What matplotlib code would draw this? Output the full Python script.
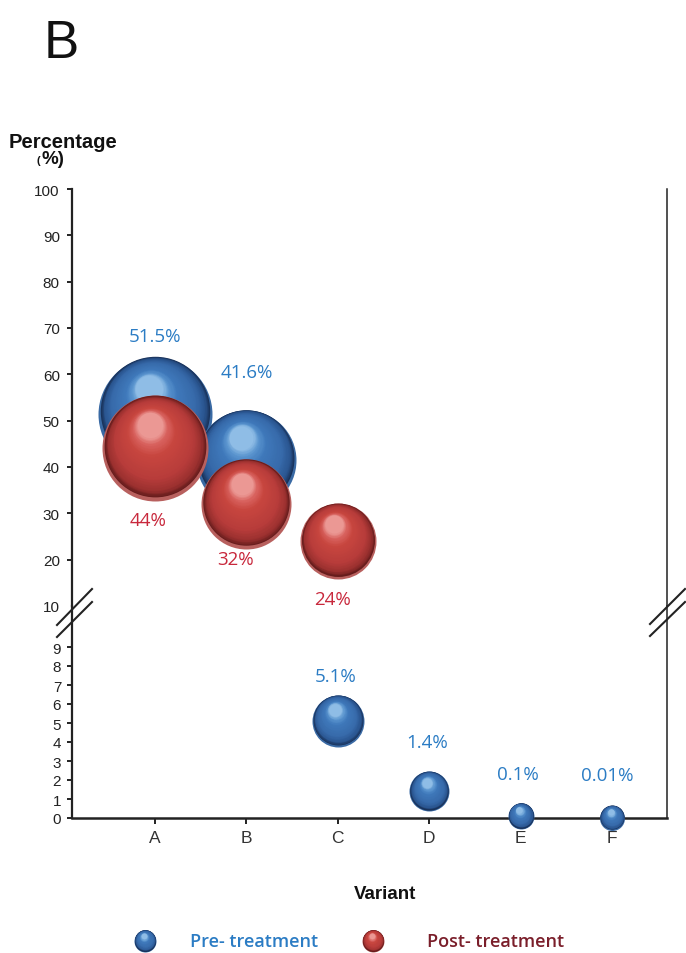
import matplotlib
matplotlib.use("Agg")
import matplotlib.pyplot as plt
from matplotlib.colors import LinearSegmentedColormap
from matplotlib.transforms import offset_copy
from matplotlib.lines import Line2D

plt.rcParams["font.family"] = ["Liberation Sans", "DejaVu Sans"]

# data
variants = ["A", "B", "C", "D", "E", "F"]
pre_values = [51.5, 41.6, 5.1, 1.4, 0.1, 0.01]
pre_labels = ["51.5%", "41.6%", "5.1%", "1.4%", "0.1%", "0.01%"]
post_idx = [0, 1, 2]
post_values = [44, 32, 24]
post_labels = ["44%", "32%", "24%"]

# sphere radius (pixels) and label offsets (pixels)
pre_radius = [57, 50, 26, 20, 13, 12.5]
post_radius = [53, 45, 38]
pre_offsets = [(0, 78), (0, 88), (-2, 45), (-2, 49), (-3, 42), (-5, 43)]
post_offsets = [(-7, -72), (-11, -55), (-5, -58)]

BLUE_TXT = "#2b7cc4"
RED_TXT = "#c8283c"
blue_cmap = LinearSegmentedColormap.from_list(
    "blue_ball", [(0, "#19325a"), (0.1, "#2a5590"), (0.3, "#376aaa"),
                  (0.7, "#3f79bb"), (0.88, "#5b95cf"), (1.0, "#8fbde6")])
red_cmap = LinearSegmentedColormap.from_list(
    "red_ball", [(0, "#661c1c"), (0.1, "#9a302f"), (0.3, "#b73c3a"),
                 (0.7, "#c8463f"), (0.88, "#d8625e"), (1.0, "#eb9894")])
rim_colors = {"blue_ball": "#3a6aa4", "red_ball": "#b8605e"}

W, H = 686, 954
fig = plt.figure(figsize=(W / 100, H / 100), dpi=100)


def fx(x):
    return x / W


def fy(y):
    return 1 - y / H


def disc(ax, x, y, rk, dx, dy, color, zorder):
    tr = offset_copy(ax.transData, fig=fig, x=dx, y=dy, units="dots")
    ax.scatter([x], [y], s=(2 * rk * 0.72) ** 2, color=color,
               transform=tr, zorder=zorder, clip_on=False, linewidths=0)


def draw_sphere(ax, x, y, r, cmap, zorder):
    # soft rim at the bottom, then stacked discs shifted towards the highlight
    disc(ax, x, y, r, 0, 0, rim_colors[cmap.name], zorder)
    n = 48
    for k in range(n):
        t = k / (n - 1)
        rk = r * (0.96 - 0.72 * t)
        disc(ax, x, y, rk, -0.1 * r * t, 0.04 * r + 0.4 * r * t,
             cmap(t), zorder)


left, right = 72, 667
ax_top = fig.add_axes([fx(left), fy(607), fx(right) - fx(left), fy(190) - fy(607)])
ax_bot = fig.add_axes([fx(left), fy(819), fx(right) - fx(left), fy(607) - fy(819)])

xlim = (-0.908, 5.60)
for ax in (ax_top, ax_bot):
    ax.set_xlim(*xlim)
    ax.set_facecolor("none")
    ax.spines["top"].set_visible(False)
    ax.spines["left"].set_linewidth(1.6)
    ax.spines["right"].set_linewidth(1.1)
    for s in ax.spines.values():
        s.set_color("#222222")
    ax.tick_params(axis="y", direction="out", length=3.8, width=1.4,
                   labelsize=11, colors="#222222")

ax_top.spines["bottom"].set_visible(False)
ax_top.set_xticks([])
ax_top.set_ylim(10, 100)
ax_top.set_yticks(range(10, 101, 10))
ax_top.tick_params(axis="y", pad=5)
ax_top.yaxis.get_major_ticks()[0].tick1line.set_visible(False)

ax_bot.set_ylim(0, (819 - 607) / 19)
ax_bot.set_yticks(range(0, 10))
ax_bot.tick_params(axis="y", pad=4)
ax_bot.spines["bottom"].set_linewidth(1.8)
ax_bot.set_xticks(range(len(variants)))
ax_bot.set_xticklabels(variants)
ax_bot.tick_params(axis="x", direction="out", length=4.5, width=1.4,
                   labelsize=12.5, colors="#222222", labelcolor="#333333", pad=4)

# pre-treatment spheres
for i, (v, lab, r, off) in enumerate(zip(pre_values, pre_labels, pre_radius, pre_offsets)):
    ax = ax_top if v >= 10 else ax_bot
    draw_sphere(ax, i, v, r, blue_cmap, 3)
    ax.annotate(lab, (i, v), xytext=off, textcoords="offset pixels",
                ha="center", va="center", color=BLUE_TXT, fontsize=13.5,
                family=["Open Sans", "DejaVu Sans"], annotation_clip=False)

# post-treatment spheres
for i, v, lab, r, off in zip(post_idx, post_values, post_labels, post_radius, post_offsets):
    draw_sphere(ax_top, i, v, r, red_cmap, 5)
    ax_top.annotate(lab, (i, v), xytext=off, textcoords="offset pixels",
                    ha="center", va="center", color=RED_TXT, fontsize=13.5,
                    family=["Open Sans", "DejaVu Sans"], annotation_clip=False)

# axis break marks
for (x0, y0, x1, y1) in [(57, 626, 92, 590), (57, 638, 92, 603),
                         (650, 625, 685, 590), (650, 637, 685, 603)]:
    fig.add_artist(Line2D([fx(x0), fx(x1)], [fy(y0), fy(y1)], lw=1.5,
                          color="#222222", transform=fig.transFigure))

# texts
fig.text(fx(44), fy(58), "B", fontsize=38, ha="left", va="baseline", color="#111111")
fig.text(fx(63), fy(143), "Percentage", fontsize=14.5, weight="bold",
         ha="center", va="center", color="#111111")
fig.text(fx(38), fy(161), "(", fontsize=8, weight="bold", ha="center",
         va="center", color="#111111")
fig.text(fx(41), fy(160), "%)", fontsize=13.5, weight="bold", ha="left",
         va="center", color="#111111")
fig.text(fx(385), fy(895), "Variant", fontsize=13.5, weight="bold",
         ha="center", va="center", color="#111111")

# legend
ax_leg = fig.add_axes([0, 0, 1, 1])
ax_leg.set_xlim(0, W)
ax_leg.set_ylim(H, 0)
ax_leg.axis("off")
draw_sphere(ax_leg, 145, 942, 11, blue_cmap, 3)
draw_sphere(ax_leg, 373, 942, 11, red_cmap, 3)
ax_leg.text(190, 942, "Pre- treatment", fontsize=13, weight="semibold",
            family=["Open Sans", "DejaVu Sans"], color=BLUE_TXT, ha="left", va="center")
ax_leg.text(427, 942, "Post- treatment", fontsize=13, weight="semibold",
            family=["Open Sans", "DejaVu Sans"], color="#7a1e2a", ha="left", va="center")

fig.savefig("out.png", dpi=100)
